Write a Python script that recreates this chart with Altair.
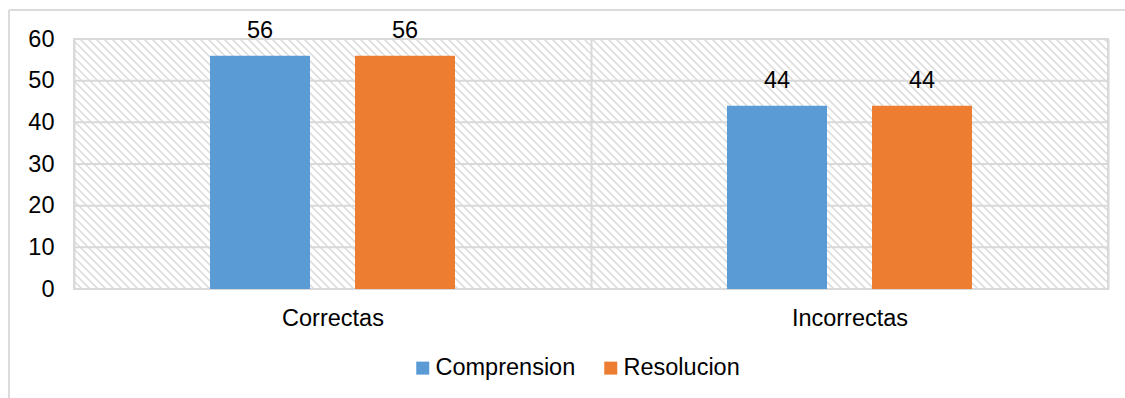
import altair as alt
import pandas as pd

# Chart values
categorias = ["Correctas", "Correctas", "Incorrectas", "Incorrectas"]
series = ["Comprension", "Resolucion", "Comprension", "Resolucion"]
valores = [56, 56, 44, 44]
orden_series = ["Comprension", "Resolucion"]
colores = ["#5B9BD5", "#ED7D31"]
ticks_y = [0, 10, 20, 30, 40, 50, 60]

W, H = 1034, 250
FONT = "Liberation Sans"
GRIS = "#d9d9d9"
FS = 23.5

df = pd.DataFrame({"categoria": categorias, "serie": series, "valor": valores})
df_grid = pd.DataFrame({"v": ticks_y})

# Diagonal hatch texture for the plot background
hatch = (
    alt.Chart(alt.sequence(-H, W + 8, 8, as_="x0"))
    .transform_calculate(x1=f"datum.x0 + {H}", ytop=f"{H}", ybot="0")
    .mark_rule(clip=True, color=GRIS, strokeWidth=1.5)
    .encode(
        x=alt.X("x0:Q", scale=alt.Scale(domain=[0, W], nice=False, zero=False), axis=None),
        x2="x1:Q",
        y=alt.Y("ytop:Q", scale=alt.Scale(domain=[0, H], nice=False), axis=None),
        y2="ybot:Q",
    )
)

# Outer frame around the whole chart
marco = alt.Chart(df).mark_rect(fillOpacity=0, stroke=GRIS, strokeWidth=1).encode(
    x=alt.value(-65), x2=alt.value(W + 60), y=alt.value(-29), y2=alt.value(H + 150)
)

x_enc = alt.X(
    "categoria:N",
    scale=alt.Scale(paddingInner=0, paddingOuter=0),
    axis=alt.Axis(
        title=None, labelAngle=0, ticks=False, domain=False, grid=True,
        tickBand="extent", gridColor=GRIS, gridWidth=2,
        labelFont=FONT, labelFontSize=FS, labelColor="#000000", labelPadding=17,
    ),
)
xoff_enc = alt.XOffset(
    "serie:N",
    scale=alt.Scale(domain=orden_series, paddingInner=0.3103, paddingOuter=0.9379),
)
y_scale = alt.Scale(domain=[0, 60], nice=False)
y_enc = alt.Y(
    "valor:Q",
    scale=y_scale,
    axis=alt.Axis(
        values=ticks_y, title=None, ticks=False, domain=False, grid=False,
        labelFont=FONT, labelFontSize=FS, labelColor="#000000", labelPadding=20,
    ),
)

# Horizontal gridlines at each y tick
rejilla = alt.Chart(df_grid).mark_rule(color=GRIS, strokeWidth=2).encode(
    y=alt.Y("v:Q", scale=y_scale)
)

barras = alt.Chart(df).mark_bar().encode(
    x=x_enc,
    xOffset=xoff_enc,
    y=y_enc,
    color=alt.Color(
        "serie:N",
        scale=alt.Scale(domain=orden_series, range=colores),
        legend=alt.Legend(
            title=None, orient="none", legendX=337, legendY=317,
            direction="horizontal", symbolType="square", symbolSize=169,
            symbolStrokeWidth=0, labelFont=FONT, labelFontSize=FS,
            labelColor="#000000", columnPadding=23, labelOffset=1, padding=0,
        ),
    ),
)

etiquetas = alt.Chart(df).mark_text(
    dy=-18, baseline="alphabetic", font=FONT, fontSize=FS, color="#000000"
).encode(
    x=x_enc,
    xOffset=xoff_enc,
    y=y_enc,
    text=alt.Text("valor:Q", format=".0f"),
)

principal = alt.layer(marco, rejilla, barras, etiquetas)

chart = (
    alt.layer(hatch, principal)
    .resolve_scale(x="independent", y="independent")
    .properties(
        width=W,
        height=H,
        autosize=alt.AutoSizeParams(type="none"),
        padding={"left": 74, "top": 39, "right": 17, "bottom": 109},
        background="#ffffff",
    )
    .configure_view(stroke=GRIS, strokeWidth=2)
)

chart.save("out.html", embed_options={"renderer": "svg", "actions": False})
